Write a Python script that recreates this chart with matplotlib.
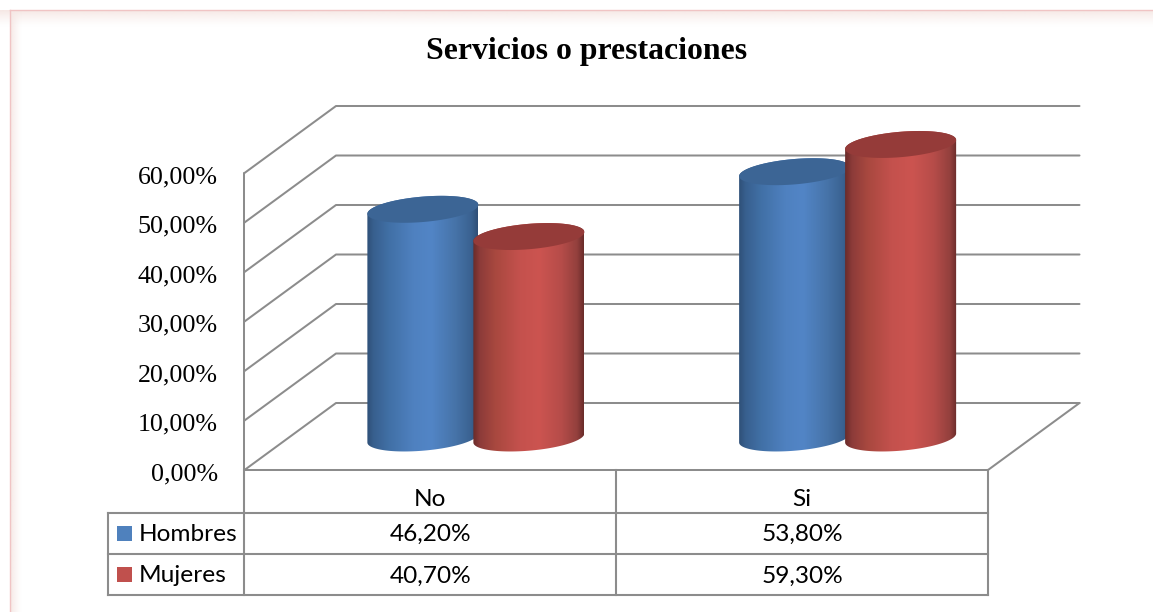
import numpy as np
import matplotlib
matplotlib.use("Agg")
import matplotlib.pyplot as plt
from matplotlib.colors import LinearSegmentedColormap
from matplotlib.patches import Polygon, Rectangle

title = "Servicios o prestaciones"
categories = ["No", "Si"]
series_names = ["Hombres", "Mujeres"]
hombres = [46.2, 53.8]
mujeres = [40.7, 59.3]
ticks = [0, 10, 20, 30, 40, 50, 60]
series_values = [hombres, mujeres]

W, H = 1153, 612
UX = 371.75          # px per category
UY = 4.95            # px per percentage point
X0_PX, Y0_PX = 244.5, 470.0
GRID = "#8C8C8C"
SERIF = "Liberation Serif"
SANS = "Lato"

fig = plt.figure(figsize=(W / 100, H / 100), dpi=100, facecolor="white")
ax = fig.add_axes([0, 0, 1, 1])
xlim = (-X0_PX / UX, (W - X0_PX) / UX)
ylim = (-(H - Y0_PX) / UY, Y0_PX / UY)
ax.set_xlim(xlim)
ax.set_ylim(ylim)
ax.axis("off")


def fmt(v):
    return f"{v:.2f}".replace(".", ",") + "%"


def gx(px):
    return px / UX


def gy(px):
    return px / UY


# page frame with soft shadow
top_shadow = np.ones((32, 2, 4))
top_shadow[..., :3] = matplotlib.colors.to_rgb("#F6E8E5")
top_shadow[..., 3] = np.linspace(1, 0, 32)[:, None] ** 1.3
ax.imshow(top_shadow, extent=(xlim[0], xlim[1], ylim[1] - gy(27), ylim[1] - gy(10)),
          aspect="auto", zorder=0, interpolation="bilinear")
left_shadow = np.ones((2, 32, 4))
left_shadow[..., :3] = matplotlib.colors.to_rgb("#F6E8E5")
left_shadow[..., 3] = np.linspace(1, 0, 32)[None, :] ** 1.3
ax.imshow(left_shadow, extent=(xlim[0] + gx(10), xlim[0] + gx(22), ylim[0], ylim[1] - gy(10)),
          aspect="auto", zorder=0, interpolation="bilinear")
ax.plot([xlim[0] + gx(10), xlim[1]], [ylim[1] - gy(9.5)] * 2, color="#F0C4C4", lw=1.0, zorder=1)
ax.plot([xlim[0] + gx(10)] * 2, [ylim[0], ylim[1] - gy(9.5)], color="#F0C4C4", lw=1.0, zorder=1)

# 3D walls and floor
n = len(categories)
dx, dy = gx(91.5), gy(67)
line = dict(color=GRID, lw=1.45, solid_capstyle="round", solid_joinstyle="round", zorder=2)
for t in ticks:
    ax.plot([0, dx, n + dx], [t, t + dy, t + dy], **line)
ax.plot([0, 0], [0, max(ticks)], **line)
ax.plot([0, n, n + dx], [0, 0, dy], **line)

for t in ticks:
    ax.text(-gx(26.5), t - gy(4), fmt(t), ha="right", va="center",
            family=SERIF, fontsize=18.7, color="#000000", zorder=5)

# cylinders
stops = [
    [(0, "#2F5078"), (.06, "#38608F"), (.2, "#4170A6"), (.42, "#4F81C0"), (.58, "#5285C6"),
     (.8, "#4673A8"), (.94, "#3A6291"), (1, "#2F4F76")],
    [(0, "#6A2B29"), (.06, "#8C3B39"), (.2, "#A8483F"), (.42, "#C4514D"), (.6, "#CC5450"),
     (.8, "#B54C49"), (.94, "#93403D"), (1, "#6A2C2A")],
]
lids = ["#3C6595", "#953B39"]
half_w = gx(55.5)
offsets = [-gx(53), gx(53)]
base = gy(32)
tilt = gy(4.5)
minor = gy(12.7)
shift = gx(45.5)
grad = np.linspace(0, 1, 256)[None, :]
phi = np.linspace(0, 2 * np.pi, 181)

for s, (vals, st, lid) in enumerate(zip(series_values, stops, lids)):
    cmap = LinearSegmentedColormap.from_list(series_names[s], st)
    for i, v in enumerate(vals):
        cx = i + 0.5 + shift + offsets[s]
        lo, hi = base, base + v
        # lower half of base outline (left to right), upper half of top outline (right to left)
        t1 = np.linspace(np.pi, 2 * np.pi, 90)
        bx = cx + half_w * np.cos(t1)
        by = lo + tilt * np.cos(t1) + minor * np.sin(t1)
        t2 = np.linspace(0, np.pi, 90)
        ux = cx + half_w * np.cos(t2)
        uy = hi + tilt * np.cos(t2) + minor * np.sin(t2)
        outline = Polygon(np.c_[np.r_[bx, ux], np.r_[by, uy]], closed=True,
                          transform=ax.transData, fc="none", ec="none")
        ax.add_patch(outline)
        z = 3 + s * 0.5 + i * 0.01
        im = ax.imshow(grad, extent=(cx - half_w, cx + half_w, lo - minor - tilt, hi + minor + tilt),
                       cmap=cmap, aspect="auto", zorder=z, interpolation="bilinear")
        im.set_clip_path(outline)
        ax.add_patch(Polygon(np.c_[cx + half_w * np.cos(phi),
                                   hi + tilt * np.cos(phi) + minor * np.sin(phi)],
                             closed=True, fc=lid, ec="none", zorder=z + 0.1))

ax.set_xlim(xlim)
ax.set_ylim(ylim)

# data table
row_h = gy(41.3)
header_bottom = -gy(42.5)
rows_bottom = header_bottom - row_h * len(series_names)
table_left = -gx(136.5)
tline = dict(color=GRID, lw=1.5, solid_capstyle="projecting", zorder=2)
ax.plot([0, 0], [0, rows_bottom], **tline)
for c in range(1, n + 1):
    ax.plot([c, c], [0, rows_bottom], **tline)
for r in range(len(series_names) + 1):
    yy = header_bottom - r * row_h
    ax.plot([table_left, n], [yy, yy], **tline)
ax.plot([table_left, table_left], [header_bottom, rows_bottom], **tline)

for c, name in enumerate(categories):
    ax.text(c + 0.5, -gy(30), name, ha="center", va="center", family=SANS, fontsize=17.6, color="black", zorder=5)

swatches = ["#4F81BD", "#C0504D"]
for r, name in enumerate(series_names):
    yc = header_bottom - (r + 0.5) * row_h - gy(1.5)
    ax.add_patch(Rectangle((table_left + gx(9), yc - gy(7.5) + gy(1.5)), gx(15), gy(15),
                           fc=swatches[r], ec="none", zorder=5))
    ax.text(table_left + gx(31), yc, name, ha="left", va="center", family=SANS, fontsize=17.6, color="black", zorder=5)
    for c, v in enumerate(series_values[r]):
        ax.text(c + 0.5, yc, fmt(v), ha="center", va="center", family=SANS, fontsize=17.6, color="black", zorder=5)

ax.text(gx(587 - X0_PX), gy(Y0_PX - 51), title, ha="center", va="center",
        family=SERIF, fontsize=22.9, fontweight="bold", color="black", zorder=5)

fig.savefig("out.png", dpi=100)
